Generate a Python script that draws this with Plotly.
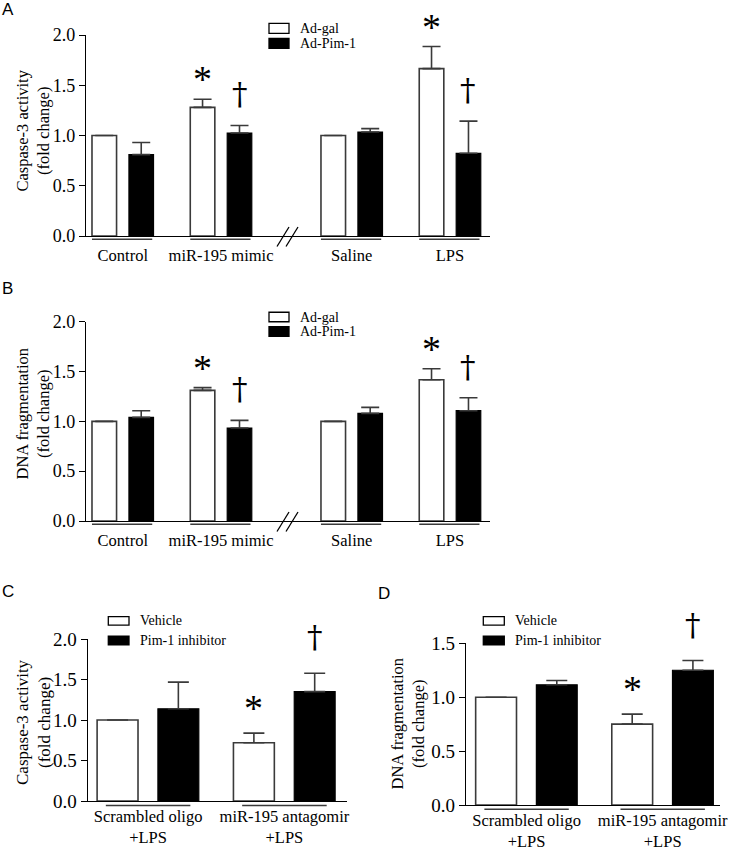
import plotly.graph_objects as go

# ---------------- data ----------------
# Panels A and B (Ad-gal vs Ad-Pim-1)
ab_groups_left = ["Control", "miR-195 mimic"]
ab_groups_right = ["Saline", "LPS"]

a_gal = [1.00, 1.28, 1.00, 1.665]
a_gal_err = [0.0, 0.08, 0.0, 0.22]
a_pim = [0.81, 1.025, 1.035, 0.823]
a_pim_err = [0.12, 0.075, 0.033, 0.32]

b_gal = [1.00, 1.311, 1.00, 1.418]
b_gal_err = [0.0, 0.027, 0.0, 0.11]
b_pim = [1.04, 0.933, 1.08, 1.107]
b_pim_err = [0.067, 0.077, 0.06, 0.13]

# significance flags (star over first series, dagger over second series)
ab_star = [False, True, False, True]
ab_dagger = [False, True, False, True]

# Panels C and D (Vehicle vs Pim-1 inhibitor)
cd_groups = ["Scrambled oligo<br>+LPS", "miR-195 antagomir<br>+LPS"]
c_veh = [1.00, 0.72]
c_veh_err = [0.0, 0.118]
c_pim = [1.138, 1.35]
c_pim_err = [0.329, 0.227]
d_veh = [1.00, 0.75]
d_veh_err = [0.0, 0.093]
d_pim = [1.115, 1.25]
d_pim_err = [0.04, 0.09]
cd_star = [False, True]
cd_dagger = [False, True]

ab_legend = ["Ad-gal", "Ad-Pim-1"]
cd_legend = ["Vehicle", "Pim-1 inhibitor"]
a_ytitle = "Caspase-3 activity<br>(fold change)"
b_ytitle = "DNA fragmentation<br>(fold change)"
c_ytitle = "Caspase-3 activity<br>(fold change)"
d_ytitle = "DNA fragmentation<br>(fold change)"
ab_ticks = [0.0, 0.5, 1.0, 1.5, 2.0]
c_ticks = [0.0, 0.5, 1.0, 1.5, 2.0]
d_ticks = [0.0, 0.5, 1.0, 1.5]

# ---------------- helpers ----------------
W, H = 733, 850
SERIF = "Liberation Serif"
SANS = "Liberation Sans"
EDGE = "#3a3a3a"


def fx(px):
    return px / W


def fy(py):
    return 1 - py / H


fig = go.Figure()
shapes = []
annotations = []


def add_bars(xname, yname, cats, v1, e1, v2, e2, width, off1, off2, capw):
    fig.add_trace(go.Bar(
        x=cats, y=v1, width=width, offset=off1, xaxis=xname, yaxis=yname,
        marker=dict(color="white", line=dict(color=EDGE, width=1.6)),
        error_y=dict(type="data", array=e1, arrayminus=[0] * len(e1), symmetric=False,
                     color=EDGE, thickness=1.6, width=capw),
        showlegend=False, hoverinfo="skip"))
    fig.add_trace(go.Bar(
        x=cats, y=v2, width=width, offset=off2, xaxis=xname, yaxis=yname,
        marker=dict(color="black", line=dict(color="black", width=1.2)),
        error_y=dict(type="data", array=e2, arrayminus=[0] * len(e2), symmetric=False,
                     color=EDGE, thickness=1.6, width=capw),
        showlegend=False, hoverinfo="skip"))


def add_sig(xref, yref, n, v1, e1, v2, e2, stars, daggers, width, off1, off2,
            star_shift, dag_shift):
    for i in range(n):
        if stars[i]:
            annotations.append(dict(
                x=i + off1 + width / 2, y=v1[i] + e1[i], xref=xref, yref=yref,
                text="*", showarrow=False, yanchor="middle", yshift=star_shift,
                font=dict(family=SERIF, size=38, color="black")))
        if daggers[i]:
            annotations.append(dict(
                x=i + off2 + width / 2, y=v2[i] + e2[i], xref=xref, yref=yref,
                text="†", showarrow=False, yanchor="middle", yshift=dag_shift,
                font=dict(family="DejaVu Serif", size=31, color="black")))


def add_underlines(xref, yref, n, lo, hi, ypos):
    for i in range(n):
        shapes.append(dict(type="line", xref=xref, yref=yref + " domain",
                           x0=i + lo, x1=i + hi, y0=ypos, y1=ypos,
                           line=dict(color=EDGE, width=1.4)))


def add_legend(x0, x1, ytop, labels, gap, sw_h, text_x):
    for k, lab in enumerate(labels):
        yc = ytop + k * gap
        shapes.append(dict(type="rect", xref="paper", yref="paper",
                           x0=fx(x0), x1=fx(x1), y0=fy(yc - sw_h / 2), y1=fy(yc + sw_h / 2),
                           fillcolor="white" if k == 0 else "black",
                           line=dict(color="black", width=1.3)))
        annotations.append(dict(x=fx(text_x), y=fy(yc), xref="paper", yref="paper",
                                text=lab, showarrow=False, xanchor="left", yanchor="middle",
                                font=dict(family=SERIF, size=14, color="black")))


def add_ytitle(text, cx, cy, size):
    annotations.append(dict(x=fx(cx), y=fy(cy), xref="paper", yref="paper", text=text,
                            textangle=-90, showarrow=False, xanchor="center",
                            yanchor="middle", align="center",
                            font=dict(family=SERIF, size=size, color="black")))


def yaxis_style(domain, rng, ticks, anchor, tsize):
    return dict(domain=domain, range=rng, tickvals=ticks,
                ticktext=["%.1f" % t for t in ticks],
                showline=True, linecolor="black", linewidth=1.4,
                ticks="outside", ticklen=6, tickwidth=1.4, tickcolor="black",
                showgrid=False, zeroline=False, anchor=anchor, automargin=False,
                tickfont=dict(family=SERIF, size=tsize, color="black"))


def xaxis_style(domain, rng, anchor, standoff):
    return dict(domain=domain, range=rng, type="category", anchor=anchor,
                showline=True, linecolor="black", linewidth=1.4,
                ticks="", showgrid=False, zeroline=False, automargin=False,
                ticklabelstandoff=standoff,
                tickfont=dict(family=SERIF, size=16.5, color="black"))


# ---------------- panels A and B ----------------
AB_W, AB_O1, AB_O2 = 0.25, -0.313, 0.063
for (val1, err1, val2, err2, xl, xr, yn, ybot) in [
        (a_gal, a_gal_err, a_pim, a_pim_err, "x", "x2", "y", 236),
        (b_gal, b_gal_err, b_pim, b_pim_err, "x3", "x4", "y2", 521)]:
    add_bars(xl, yn, ab_groups_left, val1[:2], err1[:2], val2[:2], err2[:2],
             AB_W, AB_O1, AB_O2, 9)
    add_bars(xr, yn, ab_groups_right, val1[2:], err1[2:], val2[2:], err2[2:],
             AB_W, AB_O1, AB_O2, 9)
    add_sig(xl, yn, 2, val1[:2], err1[:2], val2[:2], err2[:2], ab_star[:2], ab_dagger[:2],
            AB_W, AB_O1, AB_O2, 20, 31)
    add_sig(xr, yn, 2, val1[2:], err1[2:], val2[2:], err2[2:], ab_star[2:], ab_dagger[2:],
            AB_W, AB_O1, AB_O2, 20, 31)
    add_underlines(xl, yn, 2, -0.313, 0.30, -0.016)
    add_underlines(xr, yn, 2, -0.313, 0.30, -0.016)
    # axis break marks
    for dx in (0, 9):
        shapes.append(dict(type="line", xref="paper", yref="paper",
                           x0=fx(277 + dx), y0=fy(ybot + 10.5), x1=fx(289 + dx), y1=fy(ybot - 9),
                           line=dict(color="black", width=1.3)))

fig.update_layout(
    xaxis=xaxis_style([fx(86), fx(285)], [-0.374, 1.651], "y", 4),
    xaxis2=xaxis_style([fx(285), fx(490)], [-0.679, 1.407], "y", 4),
    yaxis=yaxis_style([fy(236), fy(35)], [0, 2], ab_ticks, "x", 18),
    xaxis3=xaxis_style([fx(86), fx(285)], [-0.374, 1.651], "y2", 4),
    xaxis4=xaxis_style([fx(285), fx(490)], [-0.679, 1.407], "y2", 4),
    yaxis2=yaxis_style([fy(521), fy(321.7)], [0, 2], ab_ticks, "x3", 18),
)

# ---------------- panels C and D ----------------
CD_W, CD_O1, CD_O2 = 0.30, -0.374, 0.072
add_bars("x5", "y3", cd_groups, c_veh, c_veh_err, c_pim, c_pim_err, CD_W, CD_O1, CD_O2, 10.5)
add_bars("x6", "y4", cd_groups, d_veh, d_veh_err, d_pim, d_pim_err, CD_W, CD_O1, CD_O2, 10.5)
add_sig("x5", "y3", 2, c_veh, c_veh_err, c_pim, c_pim_err, cd_star, cd_dagger,
        CD_W, CD_O1, CD_O2, 25, 36)
add_sig("x6", "y4", 2, d_veh, d_veh_err, d_pim, d_pim_err, cd_star, cd_dagger,
        CD_W, CD_O1, CD_O2, 25, 36)
add_underlines("x5", "y3", 2, -0.31, 0.31, -0.028)
add_underlines("x6", "y4", 2, -0.31, 0.31, -0.026)

fig.update_layout(
    xaxis5=xaxis_style([fx(87.7), fx(347)], [-0.443, 1.459], "y3", 0),
    yaxis3=yaxis_style([fy(801), fy(639)], [0, 2], c_ticks, "x5", 19),
    xaxis6=xaxis_style([fx(466), fx(720)], [-0.445, 1.421], "y4", 0),
    yaxis4=yaxis_style([fy(805), fy(643.3)], [0, 1.5], d_ticks, "x6", 19),
)

# ---------------- axis titles ----------------
add_ytitle(a_ytitle, 32.5, 131, 16.5)
add_ytitle(b_ytitle, 32.5, 414, 16.5)
add_ytitle(c_ytitle, 33, 722, 17)
add_ytitle(d_ytitle, 407.5, 723, 16.5)

# ---------------- legends ----------------
add_legend(269, 289, 28.3, ab_legend, 15, 10, 297.5)
add_legend(269, 289, 317, ab_legend, 14.5, 9.5, 297.5)
add_legend(108.3, 129, 620.8, cd_legend, 19.7, 8.5, 138.3)
add_legend(483.3, 504.3, 620.8, cd_legend, 19.7, 8.5, 512.7)

# ---------------- panel letters ----------------
for letter, (px, py) in zip("ABCD", [(7.5, 9), (7.5, 288), (7.5, 591.5), (384, 593.5)]):
    annotations.append(dict(x=fx(px), y=fy(py), xref="paper", yref="paper", text=letter,
                            showarrow=False, xanchor="center", yanchor="middle",
                            font=dict(family=SANS, size=17, color="black")))

fig.update_layout(
    width=W, height=H, margin=dict(l=0, r=0, t=0, b=0, pad=0, autoexpand=False),
    paper_bgcolor="white", plot_bgcolor="white",
    barmode="overlay", showlegend=False,
    shapes=shapes, annotations=annotations,
)

fig.write_html("out.html", config={"displayModeBar": False},
               post_script="document.body.style.margin='0px';")
